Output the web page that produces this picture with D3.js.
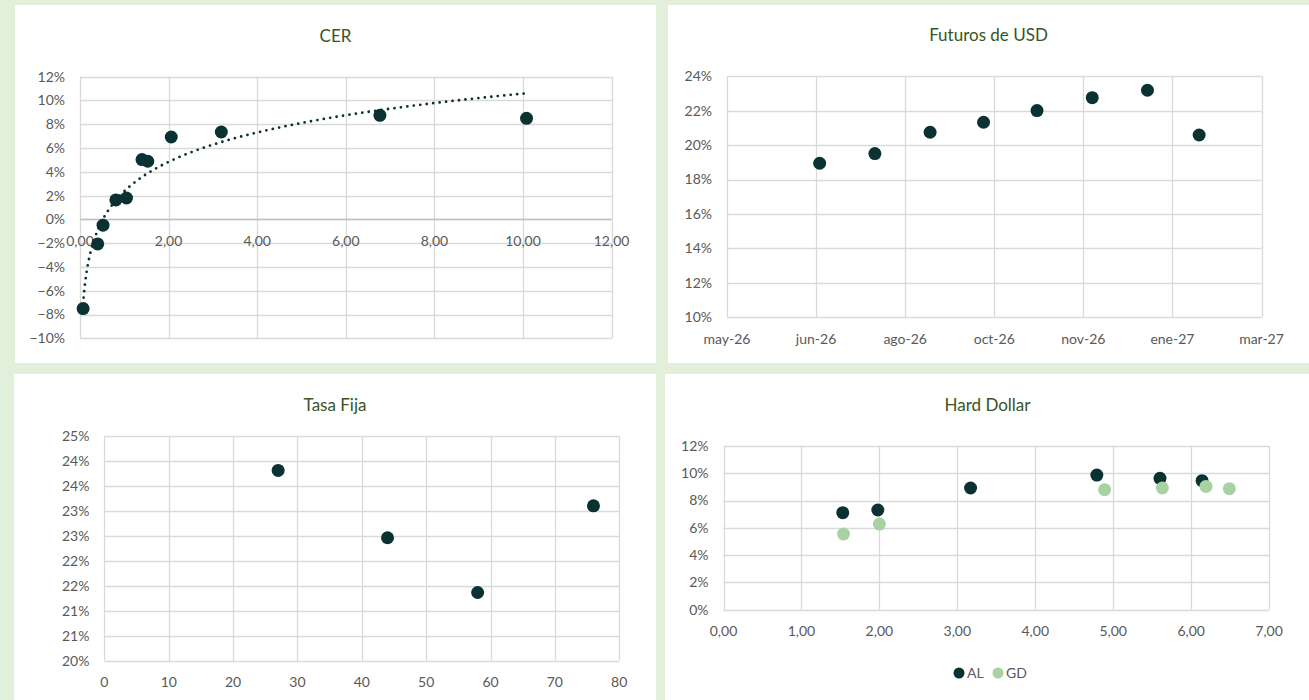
<!DOCTYPE html>
<html>
<head>
<meta charset="utf-8">
<script src="https://cdn.jsdelivr.net/npm/d3@7"></script>
<style>
  body { margin: 0; background: #e2efda; }
  svg { display: block; font-family: Lato, "Open Sans", sans-serif; }
  .tick-label { fill: #595959; font-size: 14px; }
  .title { fill: #375623; font-size: 17px; }
</style>
</head>
<body>
<svg width="1309" height="700"></svg>
<script>
// ---- data ----
// CER: duration (years) vs TIR
var cerDuration = [0.07, 0.40, 0.52, 0.81, 1.05, 1.40, 1.53, 2.06, 3.19, 6.77, 10.08];
var cerYield = [-0.075, -0.0206, -0.0049, 0.0164, 0.018, 0.0503, 0.0489, 0.0693, 0.0735, 0.0875, 0.085];
var cerXTicks = [0, 2, 4, 6, 8, 10, 12];
var cerYTicks = [-0.10, -0.08, -0.06, -0.04, -0.02, 0, 0.02, 0.04, 0.06, 0.08, 0.10, 0.12];

// Futuros de USD: expiry vs implied rate
var futDates = ['2026-06-30', '2026-07-31', '2026-08-31', '2026-09-30', '2026-10-30', '2026-11-30', '2026-12-31', '2027-01-29'];
var futRate = [0.1895, 0.1951, 0.2075, 0.2133, 0.2201, 0.2276, 0.2319, 0.2059];
var futXTicks = ['2026-05-09', '2026-06-28', '2026-08-17', '2026-10-06', '2026-11-25', '2027-01-14', '2027-03-05'];
var futYTicks = [0.10, 0.12, 0.14, 0.16, 0.18, 0.20, 0.22, 0.24];

// Tasa Fija: days vs TIR
var tfDays = [27, 44, 58, 76];
var tfRate = [0.2424, 0.2274, 0.2152, 0.2345];
var tfXTicks = [0, 10, 20, 30, 40, 50, 60, 70, 80];
var tfYTicks = [0.20, 0.205556, 0.211111, 0.216667, 0.222222, 0.227778, 0.233333, 0.238889, 0.244444, 0.25];

// Hard Dollar: duration vs TIR
var alDuration = [1.53, 1.98, 3.17, 4.79, 5.60, 6.14];
var alYield = [0.0711, 0.0731, 0.0892, 0.0987, 0.0963, 0.0946];
var gdDuration = [1.54, 2.00, 4.89, 5.63, 6.19, 6.49];
var gdYield = [0.0555, 0.0628, 0.088, 0.0892, 0.0904, 0.0887];
var hdXTicks = [0, 1, 2, 3, 4, 5, 6, 7];
var hdYTicks = [0, 0.02, 0.04, 0.06, 0.08, 0.10, 0.12];
var hdSeries = ['AL', 'GD'];

var darkColor = '#0b3232';
var lightColor = '#a8d2a3';
var gridColor = '#d9d9d9';

var es = d3.formatLocale({ decimal: ',', thousands: '.', grouping: [3], currency: ['$', ''] });
var fmtDec = es.format('.2f');
var fmtPct = d3.format('.0%');
var mesesAbr = ['ene', 'feb', 'mar', 'abr', 'may', 'jun', 'jul', 'ago', 'sep', 'oct', 'nov', 'dic'];
function fmtMes(d) {
    return mesesAbr[d.getMonth()] + '-' + String(d.getFullYear()).slice(2);
}
var parseDate = d3.timeParse('%Y-%m-%d');

var svg = d3.select('svg');

// white panels
var panels = [
    { x: 15, y: 5, w: 641, h: 358 },
    { x: 668, y: 5, w: 641, h: 358 },
    { x: 14, y: 374, w: 642, h: 326 },
    { x: 665, y: 374, w: 644, h: 326 }
];
svg.selectAll('.panel').data(panels).enter().append('rect')
    .attr('class', 'panel')
    .attr('x', d => d.x).attr('y', d => d.y)
    .attr('width', d => d.w).attr('height', d => d.h)
    .attr('fill', '#fff');

// draw gridlines + tick labels for one chart
function drawFrame(g, x, y, xTicks, yTicks, xFmt, yFmt, xLabelY) {
    var x0 = x.range()[0], x1 = x.range()[1];
    var y0 = y.range()[0], y1 = y.range()[1];

    g.selectAll('.hgrid').data(yTicks).enter().append('line')
        .attr('x1', x0).attr('x2', x1)
        .attr('y1', d => Math.round(y(d)) + 0.5).attr('y2', d => Math.round(y(d)) + 0.5)
        .attr('stroke', gridColor).attr('stroke-width', 1.3);

    g.selectAll('.vgrid').data(xTicks).enter().append('line')
        .attr('y1', y0).attr('y2', y1)
        .attr('x1', d => Math.round(x(d)) + 0.5).attr('x2', d => Math.round(x(d)) + 0.5)
        .attr('stroke', gridColor).attr('stroke-width', 1.3);

    g.selectAll('.ylab').data(yTicks).enter().append('text')
        .attr('class', 'tick-label')
        .attr('x', x0 - 15).attr('y', d => y(d))
        .attr('dy', '0.35em')
        .attr('text-anchor', 'end')
        .text(yFmt);

    g.selectAll('.xlab').data(xTicks).enter().append('text')
        .attr('class', 'tick-label')
        .attr('x', d => x(d)).attr('y', xLabelY)
        .attr('dy', '0.35em')
        .attr('text-anchor', 'middle')
        .text(xFmt);
}

function drawTitle(text, cx, cy) {
    svg.append('text')
        .attr('class', 'title')
        .attr('x', cx).attr('y', cy)
        .attr('dy', '0.35em')
        .attr('text-anchor', 'middle')
        .text(text);
}

function drawDots(g, xs, ys, x, y, color, r) {
    g.selectAll(null).data(xs).enter().append('circle')
        .attr('cx', d => x(d))
        .attr('cy', (d, i) => y(ys[i]))
        .attr('r', r)
        .attr('fill', color);
}

// ---------- CER ----------
var cerX = d3.scaleLinear().domain([0, 12]).range([80, 611.6]);
var cerY = d3.scaleLinear().domain([-0.10, 0.12]).range([338.3, 76.7]);
var cerG = svg.append('g');
drawFrame(cerG, cerX, cerY, cerXTicks, cerYTicks, fmtDec, fmtPct, cerY(0) + 22);
// darker horizontal axis at 0%
cerG.append('line')
    .attr('x1', 80).attr('x2', 611.6)
    .attr('y1', Math.round(cerY(0)) + 0.5).attr('y2', Math.round(cerY(0)) + 0.5)
    .attr('stroke', '#bfbfbf').attr('stroke-width', 1.3);
drawTitle('CER', 335.5, 36);

// logarithmic trend line fitted to CER points
var lnX = cerDuration.map(Math.log);
var mLn = d3.mean(lnX), mY = d3.mean(cerYield);
var sxy = d3.sum(lnX, (v, i) => (v - mLn) * (cerYield[i] - mY));
var sxx = d3.sum(lnX, v => (v - mLn) * (v - mLn));
var slope = sxy / sxx, intercept = mY - slope * mLn;
var xMin = d3.min(cerDuration), xMax = d3.max(cerDuration);
var trendPts = d3.range(0, 201).map(i => {
    var t = xMin * Math.pow(xMax / xMin, i / 200);
    return [t, intercept + slope * Math.log(t)];
});
cerG.append('path')
    .datum(trendPts)
    .attr('d', d3.line().x(d => cerX(d[0])).y(d => cerY(d[1])))
    .attr('fill', 'none')
    .attr('stroke', darkColor)
    .attr('stroke-width', 2.8)
    .attr('stroke-linecap', 'round')
    .attr('stroke-dasharray', '0 6.5');
drawDots(cerG, cerDuration, cerYield, cerX, cerY, darkColor, 6.5);

// ---------- Futuros de USD ----------
var futX = d3.scaleTime()
    .domain([parseDate(futXTicks[0]), parseDate(futXTicks[futXTicks.length - 1])])
    .range([727, 1261.5]);
var futY = d3.scaleLinear().domain([0.10, 0.24]).range([317.3, 76.3]);
var futG = svg.append('g');
drawFrame(futG, futX, futY, futXTicks.map(parseDate), futYTicks, fmtMes, fmtPct, 339);
drawTitle('Futuros de USD', 988.5, 35);
drawDots(futG, futDates.map(parseDate), futRate, futX, futY, darkColor, 6.5);

// ---------- Tasa Fija ----------
var tfX = d3.scaleLinear().domain([0, 80]).range([104.4, 619.2]);
var tfY = d3.scaleLinear().domain([0.20, 0.25]).range([660.7, 436.3]);
var tfG = svg.append('g');
drawFrame(tfG, tfX, tfY, tfXTicks, tfYTicks, d => d, fmtPct, 682);
drawTitle('Tasa Fija', 335, 405.5);
drawDots(tfG, tfDays, tfRate, tfX, tfY, darkColor, 6.5);

// ---------- Hard Dollar ----------
var hdX = d3.scaleLinear().domain([0, 7]).range([723.5, 1269.1]);
var hdY = d3.scaleLinear().domain([0, 0.12]).range([609.7, 446]);
var hdG = svg.append('g');
drawFrame(hdG, hdX, hdY, hdXTicks, hdYTicks, fmtDec, fmtPct, 631);
drawTitle('Hard Dollar', 987.5, 405);
drawDots(hdG, alDuration, alYield, hdX, hdY, darkColor, 6.5);
drawDots(hdG, gdDuration, gdYield, hdX, hdY, lightColor, 6.5);

// legend
var legend = svg.append('g').attr('transform', 'translate(959, 673)');
var legItems = legend.selectAll('g').data(hdSeries).enter().append('g')
    .attr('transform', (d, i) => `translate(${i * 39}, 0)`);
legItems.append('circle')
    .attr('r', 5.5)
    .attr('fill', (d, i) => i === 0 ? darkColor : lightColor);
legItems.append('text')
    .attr('class', 'tick-label')
    .attr('x', 8).attr('dy', '0.35em')
    .text(d => d);
</script>
</body>
</html>
